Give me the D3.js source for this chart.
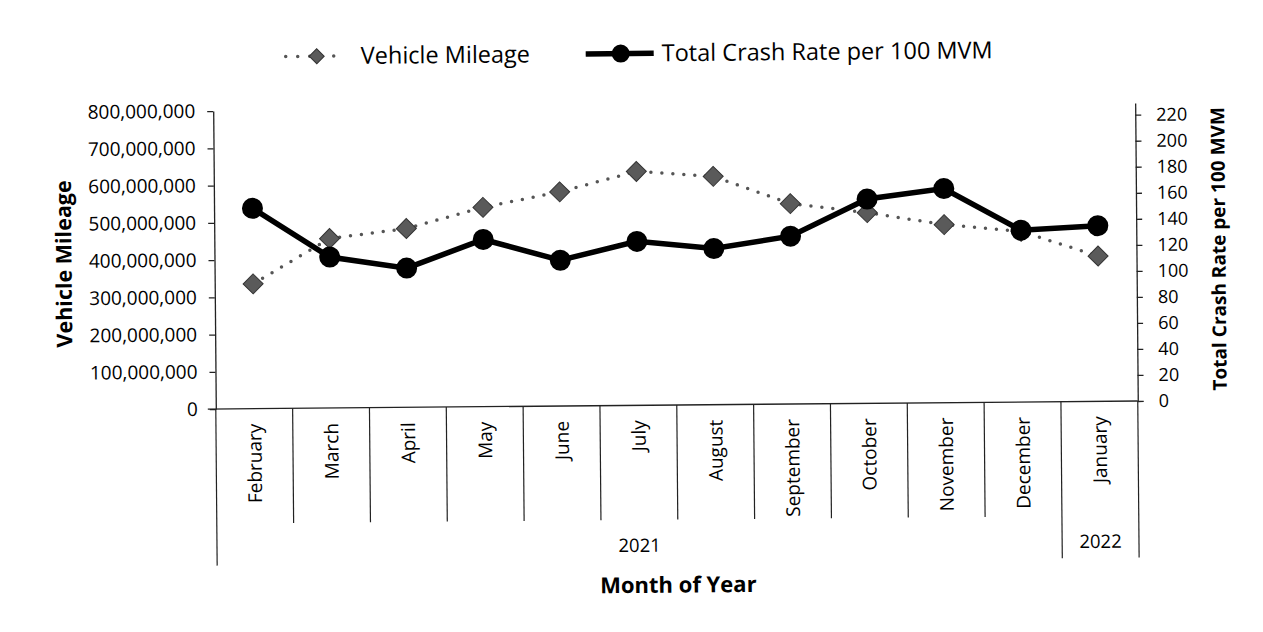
<!DOCTYPE html>
<html>
<head>
<meta charset="utf-8">
<script src="https://cdn.jsdelivr.net/npm/d3@7"></script>
<style>
  body { margin: 0; background: #fff; }
  text { fill: #000; font-family: 'Open Sans', sans-serif; }
</style>
</head>
<body>
<div id="chart"></div>
<script>
// data
var months = ["February", "March", "April", "May", "June", "July", "August",
              "September", "October", "November", "December", "January"];
var years = ["2021", "2022"];
var yearSpans = [11, 1];
var mileage = [335e6, 455e6, 480e6, 535e6, 575e6, 628e6, 613e6, 538e6, 512e6, 478e6, 458e6, 390e6];
var crashRate = [154, 116, 107, 128.5, 112, 126, 120, 129, 157, 164.5, 132, 135];
var leftTicks = [0, 1e8, 2e8, 3e8, 4e8, 5e8, 6e8, 7e8, 8e8];
var rightTicks = [0, 20, 40, 60, 80, 100, 120, 140, 160, 180, 200, 220];

var width = 1263, height = 632;
var x0 = 215, x1 = 1137, yTop = 107.4, yBase = 405.4;

var svg = d3.select("#chart")
    .append("svg")
    .attr("width", width)
    .attr("height", height);

// the scan is tilted a little
var g = svg.append("g")
    .attr("transform", "rotate(-0.5," + width / 2 + "," + height / 2 + ")");

var x = d3.scaleBand()
    .domain(months)
    .range([x0, x1]);

var yL = d3.scaleLinear().domain([0, 8e8]).range([yBase, yTop]);
var yR = d3.scaleLinear().domain([0, 229]).range([yBase, yTop]);

var fmt = d3.format(",");

// left axis
var leftAxis = g.append("g")
    .attr("transform", "translate(" + x0 + ",0)")
    .call(d3.axisLeft(yL).tickValues(leftTicks).tickFormat(fmt).tickSize(6).tickSizeOuter(0).tickPadding(12));
leftAxis.selectAll("text")
    .style("font-family", "'Open Sans', sans-serif")
    .style("font-size", "19px");

// right axis
var rightAxis = g.append("g")
    .attr("transform", "translate(" + x1 + ",0)")
    .call(d3.axisRight(yR).tickValues(rightTicks).tickSize(6).tickSizeOuter(0).tickPadding(15));
rightAxis.selectAll("text")
    .style("font-family", "'Open Sans', sans-serif")
    .style("font-size", "18px");

g.selectAll(".domain, .tick line")
    .attr("stroke", "#222")
    .attr("stroke-width", 1.3);

// category axis line + dividers
g.append("line")
    .attr("x1", x0 - 8).attr("x2", x1)
    .attr("y1", yBase).attr("y2", yBase)
    .attr("stroke", "#222").attr("stroke-width", 1.3);

var bounds = months.map(function (m) { return x(m); }).concat([x1]);
g.selectAll(".div")
    .data(bounds)
    .enter()
    .append("line")
    .attr("x1", function (d) { return d; })
    .attr("x2", function (d) { return d; })
    .attr("y1", yBase)
    .attr("y2", function (d, i) { return (i == 0 || i == 11 || i == 12) ? 562 : 520; })
    .attr("stroke", "#222").attr("stroke-width", 1.2);

g.selectAll(".month")
    .data(months)
    .enter()
    .append("text")
    .attr("transform", function (d) {
        return "translate(" + (x(d) + x.bandwidth() / 2 + 7) + "," + (yBase + 15) + ") rotate(-90)";
    })
    .attr("text-anchor", "end")
    .style("font-size", "19px")
    .text(function (d) { return d; });

// year labels
var start = 0;
years.forEach(function (yr, i) {
    var a = x(months[start]), b = x(months[start + yearSpans[i] - 1]) + x.bandwidth();
    g.append("text")
        .attr("x", (a + b) / 2)
        .attr("y", 552)
        .attr("text-anchor", "middle")
        .style("font-size", "18.5px")
        .text(yr);
    start += yearSpans[i];
});

// axis titles
g.append("text")
    .attr("transform", "translate(72,259) rotate(-90)")
    .attr("text-anchor", "middle")
    .style("font-size", "21.5px")
    .style("font-weight", "bold")
    .text("Vehicle Mileage");

g.append("text")
    .attr("transform", "translate(1226,254) rotate(-90)")
    .attr("text-anchor", "middle")
    .style("font-size", "19px")
    .style("font-weight", "bold")
    .text("Total Crash Rate per 100 MVM");

g.append("text")
    .attr("x", 676)
    .attr("y", 593)
    .attr("text-anchor", "middle")
    .style("font-size", "22px")
    .style("font-weight", "bold")
    .text("Month of Year");

var cx = function (d, i) { return x(months[i]) + x.bandwidth() / 2; };

// mileage: dotted line with diamonds
var mileLine = d3.line()
    .x(function (d, i) { return cx(d, i); })
    .y(function (d) { return yL(d); });

g.append("path")
    .datum(mileage)
    .attr("d", mileLine)
    .attr("fill", "none")
    .attr("stroke", "#555")
    .attr("stroke-width", 3.5)
    .attr("stroke-linecap", "round")
    .attr("stroke-dasharray", "0 11");

var diamond = d3.symbol().type(d3.symbolSquare).size(200);
g.selectAll(".dia")
    .data(mileage)
    .enter()
    .append("path")
    .attr("d", diamond)
    .attr("transform", function (d, i) { return "translate(" + cx(d, i) + "," + yL(d) + ") rotate(45)"; })
    .attr("fill", "#5a5a5a")
    .attr("stroke", "#333")
    .attr("stroke-width", 1);

// crash rate: solid line with circles
var rateLine = d3.line()
    .x(function (d, i) { return cx(d, i); })
    .y(function (d) { return yR(d); });

g.append("path")
    .datum(crashRate)
    .attr("d", rateLine)
    .attr("fill", "none")
    .attr("stroke", "#000")
    .attr("stroke-width", 5.5);

g.selectAll(".dot")
    .data(crashRate)
    .enter()
    .append("circle")
    .attr("cx", function (d, i) { return cx(d, i); })
    .attr("cy", function (d) { return yR(d); })
    .attr("r", 10.5)
    .attr("fill", "#000");

// legend
var leg = g.append("g");
leg.append("line")
    .attr("x1", 288).attr("x2", 348).attr("y1", 53.5).attr("y2", 53.5)
    .attr("stroke", "#555").attr("stroke-width", 3.5)
    .attr("stroke-linecap", "round").attr("stroke-dasharray", "0 12");
leg.append("path")
    .attr("d", d3.symbol().type(d3.symbolSquare).size(112))
    .attr("transform", "translate(319,53.5) rotate(45)")
    .attr("fill", "#5a5a5a").attr("stroke", "#333");
leg.append("text")
    .attr("x", 363).attr("y", 61.5)
    .style("font-size", "23.5px")
    .text("Vehicle Mileage");

leg.append("line")
    .attr("x1", 588).attr("x2", 656).attr("y1", 53.5).attr("y2", 53.5)
    .attr("stroke", "#000").attr("stroke-width", 5.5);
leg.append("circle")
    .attr("cx", 623).attr("cy", 53.5).attr("r", 9)
    .attr("fill", "#000");
leg.append("text")
    .attr("x", 664).attr("y", 61.5)
    .style("font-size", "23.5px")
    .text("Total Crash Rate per 100 MVM");
</script>
</body>
</html>
